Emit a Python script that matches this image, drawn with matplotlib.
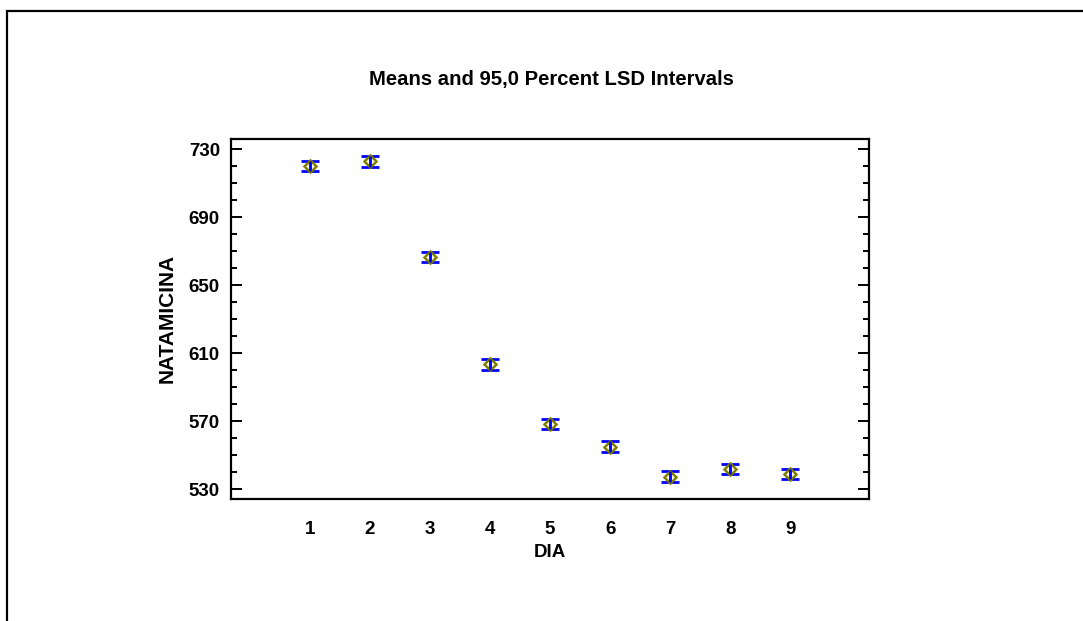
import matplotlib.pyplot as plt
from matplotlib.patches import Rectangle
from matplotlib.ticker import MultipleLocator

plt.rcParams['font.family'] = ['Liberation Sans', 'DejaVu Sans']
plt.rcParams['font.weight'] = 'bold'

# group means of NATAMICINA per DIA and LSD half-width
dias = [1, 2, 3, 4, 5, 6, 7, 8, 9]
medias = [720.3, 722.9, 666.6, 603.6, 568.6, 555.2, 537.5, 542.1, 539.0]
lsd = [3.1, 3.1, 3.1, 3.1, 3.1, 3.1, 3.1, 3.1, 3.1]
yticks = [530, 570, 610, 650, 690, 730]

fig = plt.figure(figsize=(10.83, 6.21), dpi=100)

# outer frame of the pane
fig.patches.append(Rectangle((6.5 / 1083, -0.5), 2.0, 0.5 + (621 - 11) / 621,
                             transform=fig.transFigure, fill=False,
                             edgecolor='black', linewidth=1.6))

ax = fig.add_axes([231 / 1083, (621 - 499) / 621, 638 / 1083, 360.5 / 621])

ax.errorbar(dias, medias, yerr=lsd, fmt='none', ecolor='#0000ff',
            elinewidth=1.8, capsize=6.5, capthick=2.0, zorder=2)
ax.plot(dias, medias, linestyle='none', marker='D', markersize=6.5,
        markerfacecolor='none', markeredgecolor='#808000',
        markeredgewidth=1.8, zorder=3)
ax.errorbar(dias, medias, yerr=lsd, fmt='none', ecolor='#0000ff',
            elinewidth=1.8, capsize=0, zorder=4)

ax.set_xlim(-0.31, 10.31)
ax.set_ylim(524.4, 736.4)
ax.set_xticks(dias)
ax.set_yticks(yticks)
ax.yaxis.set_minor_locator(MultipleLocator(10))

ax.tick_params(axis='x', length=0, pad=16, labelsize=13.5)
ax.tick_params(axis='y', which='major', direction='in', length=8, width=1.4,
               left=True, right=True, pad=8, labelsize=13.5)
ax.tick_params(axis='y', which='minor', direction='in', length=4.5, width=1.4,
               left=True, right=True)
for s in ax.spines.values():
    s.set_linewidth(1.6)

ax.set_xlabel('DIA', fontsize=13.5, fontweight='bold', labelpad=4)
ax.set_ylabel('NATAMICINA', fontsize=15, fontweight='bold', labelpad=9)
fig.text(551 / 1083, 1 - 80 / 621, 'Means and 95,0 Percent LSD Intervals',
         ha='center', va='center', fontsize=14.6, fontweight='bold')

fig.savefig('out.png', dpi=100)
